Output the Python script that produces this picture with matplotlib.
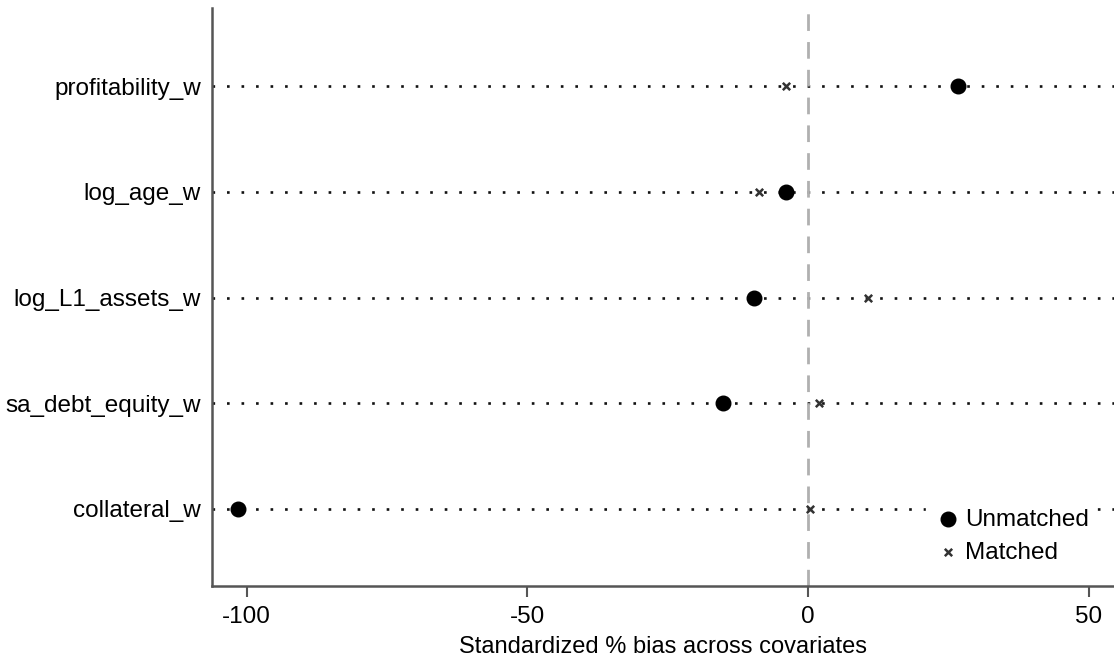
import numpy as np
import matplotlib.pyplot as plt

plt.rcParams['font.family'] = ['Liberation Sans', 'DejaVu Sans']

# covariates, top to bottom
covariates = ["profitability_w", "log_age_w", "log_L1_assets_w",
              "sa_debt_equity_w", "collateral_w"]
unmatched = [26.7, -3.9, -9.6, -15.2, -101.6]
matched = [-3.9, -8.7, 10.7, 2.0, 0.4]
xticks = [-100, -50, 0, 50]

fig = plt.figure(figsize=(11.14, 6.6), dpi=100)
ax = fig.add_axes([0.1903, 0.112, 0.8097, 0.876])

ypos = np.arange(len(covariates), 0, -1)

for y in ypos:
    ax.axhline(y, color='#111111', linestyle=(0, (1, 4.5)), linewidth=1.9, zorder=1)

ax.axvline(0, color='#b0b0b0', linestyle=(0, (6, 4)), linewidth=2, zorder=1)

ax.scatter(unmatched, ypos, s=110, color='black', marker='o', zorder=3, label='Unmatched')
ax.scatter(matched, ypos, s=28, color='#333333', marker='x', linewidths=1.8, zorder=3, label='Matched')

ax.set_xlim(-106.2, 54.5)
ax.set_ylim(0.27, 5.74)
ax.set_yticks(ypos)
ax.set_yticklabels(covariates, fontsize=17.5)
ax.set_xticks(xticks)
ax.set_xticklabels([str(v) for v in xticks], fontsize=17.5)
ax.set_xlabel("Standardized % bias across covariates", fontsize=17, labelpad=6)

ax.tick_params(axis='y', length=0, pad=8)
ax.tick_params(axis='x', length=8, width=1.5, color='#555555', pad=6, direction='out')

for side in ['top', 'right']:
    ax.spines[side].set_visible(False)
for side in ['left', 'bottom']:
    ax.spines[side].set_color('#555555')
    ax.spines[side].set_linewidth(1.8)

leg = ax.legend(loc='lower right', bbox_to_anchor=(0.994, 0.005), fontsize=17.5,
                frameon=True, facecolor='white', edgecolor='white', framealpha=1,
                handletextpad=0.1, borderpad=0.3, labelspacing=0.45, handlelength=1.2)
leg.set_zorder(5)

fig.savefig("out.png", dpi=100)
